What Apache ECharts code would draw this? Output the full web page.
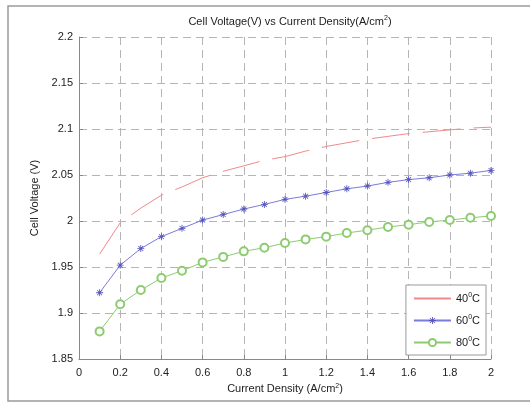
<!DOCTYPE html>
<html>
<head>
<meta charset="utf-8">
<script src="https://cdn.jsdelivr.net/npm/echarts@6/dist/echarts.min.js"></script>
<style>
html,body{margin:0;padding:0;background:#fff;}
#chart{width:530px;height:405px;}
</style>
</head>
<body>
<div id="chart"></div>
<script>
// Current density (A/cm^2)
const currentDensity = [0.1,0.2,0.3,0.4,0.5,0.6,0.7,0.8,0.9,1.0,1.1,1.2,1.3,1.4,1.5,1.6,1.7,1.8,1.9,2.0];
// Cell voltage (V)
const v40 = [1.964,1.998,2.014,2.028,2.037,2.047,2.054,2.060,2.066,2.070,2.076,2.081,2.085,2.089,2.092,2.095,2.097,2.099,2.101,2.102];
const v60 = [1.922,1.952,1.970,1.983,1.992,2.001,2.007,2.013,2.018,2.0235,2.027,2.031,2.035,2.038,2.042,2.045,2.047,2.050,2.052,2.055];
const v80 = [1.880,1.9095,1.925,1.938,1.946,1.955,1.961,1.967,1.971,1.976,1.980,1.983,1.987,1.990,1.9935,1.996,1.999,2.001,2.0035,2.0055];
const seriesNames = ['40', '60', '80'];
const xTicks = {min: 0, max: 2, interval: 0.2};
const yTicks = {min: 1.85, max: 2.2, interval: 0.05};

const pair = (ys) => currentDensity.map((x, i) => [x, ys[i]]);
const FONT = 'Liberation Sans';
const gridLine = {show: true, lineStyle: {color: '#b5b5b5', type: [8, 5], width: 1}};
const starPath = 'path://M-0.6,-5L0.6,-5L0.6,5L-0.6,5Z M-5,-0.6L5,-0.6L5,0.6L-5,0.6Z M-3.9,-3.1L-3.1,-3.9L3.9,3.1L3.1,3.9Z M3.1,-3.9L3.9,-3.1L-3.1,3.9L-3.9,3.1Z';
const sup = {a: {fontFamily: FONT, fontSize: 11, color: '#222', fontWeight: 'normal'}, s: {fontFamily: FONT, fontSize: 7, color: '#222', fontWeight: 'normal', verticalAlign: 'top', padding: [0, 0, 6, 0]}};

const chart = echarts.init(document.getElementById('chart'), null, {renderer: 'canvas'});
chart.setOption({
  backgroundColor: '#fff',
  animation: false,
  title: {
    text: '{a|Cell Voltage(V) vs Current Density(A/cm}{s|2}{a|)}',
    left: 285, top: 10, textAlign: 'center',
    textStyle: {fontWeight: 'normal', rich: sup}
  },
  graphic: [{
    type: 'rect', shape: {x: 8, y: 6, width: 540, height: 395},
    style: {fill: 'none', stroke: '#9a9a9a', lineWidth: 1.5}, silent: true, z: -1
  }],
  grid: {left: 79, right: 39, top: 37, bottom: 46},
  xAxis: {
    type: 'value', min: xTicks.min, max: xTicks.max, interval: xTicks.interval,
    name: '{a|Current Density (A/cm}{s|2}{a|)}',
    nameLocation: 'middle', nameGap: 23,
    nameTextStyle: {rich: sup},
    axisLine: {show: true, onZero: false, lineStyle: {color: '#888', width: 1}},
    axisTick: {show: true, inside: true, length: 4, lineStyle: {color: '#888'}},
    axisLabel: {fontFamily: FONT, fontSize: 11, color: '#222', margin: 8,
      formatter: v => String(parseFloat(v.toFixed(2)))},
    splitLine: gridLine
  },
  yAxis: {
    type: 'value', min: yTicks.min, max: yTicks.max, interval: yTicks.interval,
    name: 'Cell Voltage (V)', nameLocation: 'middle', nameGap: 36,
    nameTextStyle: {fontFamily: FONT, fontSize: 11, color: '#222'},
    axisLine: {show: true, lineStyle: {color: '#888', width: 1}},
    axisTick: {show: true, inside: true, length: 4, lineStyle: {color: '#888'}},
    axisLabel: {fontFamily: FONT, fontSize: 11, color: '#222', margin: 6,
      formatter: v => String(parseFloat(v.toFixed(2)))},
    splitLine: gridLine
  },
  legend: {
    orient: 'vertical', right: 44, bottom: 50,
    backgroundColor: '#fff', borderColor: '#999', borderWidth: 1, borderRadius: 0,
    padding: [7, 6, 7, 7], itemGap: 10, itemWidth: 37, itemHeight: 9,
    formatter: n => '{a|' + n + '}{s|0}{a|C}',
    textStyle: {rich: sup}
  },
  series: [
    {name: seriesNames[0], type: 'line', data: pair(v40), showSymbol: false, symbol: 'none',
      lineStyle: {color: '#f08a8a', width: 1, type: [38, 13]}, itemStyle: {color: 'rgba(0,0,0,0)', borderWidth: 0}},
    {name: seriesNames[1], type: 'line', data: pair(v60), symbol: starPath, symbolSize: 7,
      lineStyle: {color: '#7b7bd8', width: 1}, itemStyle: {color: '#5555c0', borderWidth: 0}},
    {name: seriesNames[2], type: 'line', data: pair(v80), symbol: 'emptyCircle', symbolSize: 8,
      lineStyle: {color: '#8dcc70', width: 1}, itemStyle: {color: '#8dcc70', borderWidth: 1}}
  ]
});
</script>
</body>
</html>
